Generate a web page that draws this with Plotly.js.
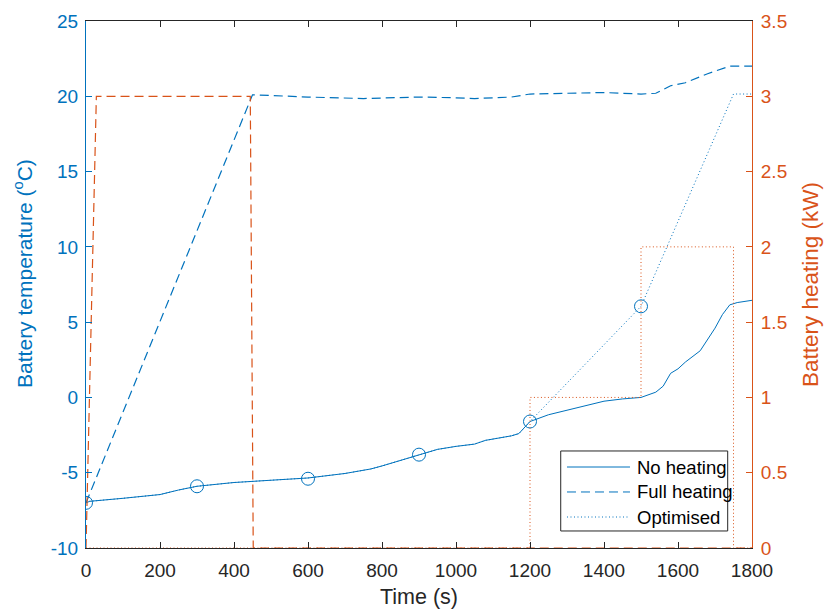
<!DOCTYPE html>
<html>
<head>
<meta charset="utf-8">
<script src="https://cdn.plot.ly/plotly-3.0.1.min.js"></script>
<style>html,body{margin:0;padding:0;background:#fff;}#chart{width:826px;height:613px;}</style>
</head>
<body>
<div id="chart"></div>
<script>
// Temperature, no heating
const noHeatTime = [0,10,100,200,250,300,400,500,600,700,770,800,900,950,1000,1050,1080,1150,1170,1200,1250,1300,1350,1400,1450,1500,1540,1560,1580,1600,1620,1640,1660,1700,1720,1740,1760,1800];
const noHeatTemp = [-7.0,-6.9,-6.7,-6.45,-6.15,-5.9,-5.65,-5.5,-5.35,-5.05,-4.75,-4.55,-3.8,-3.45,-3.25,-3.1,-2.85,-2.55,-2.4,-1.6,-1.15,-0.85,-0.5,-0.25,-0.1,0.0,0.35,0.75,1.6,1.9,2.35,2.75,3.1,4.6,5.5,6.15,6.3,6.45];
// Temperature, full heating
const fullTime = [0,450,500,600,750,900,1000,1050,1150,1200,1300,1400,1500,1540,1580,1620,1680,1740,1800];
const fullTemp = [-7.0,20.1,20.05,19.95,19.85,19.95,19.9,19.85,19.95,20.15,20.2,20.25,20.15,20.2,20.7,20.9,21.5,22.0,22.0];
// Temperature, optimised
const optTime = [0,10,100,200,250,300,400,500,600,700,770,800,900,950,1000,1050,1080,1150,1170,1200,1500,1750,1800];
const optTemp = [-7.0,-6.9,-6.7,-6.45,-6.15,-5.9,-5.65,-5.5,-5.35,-5.05,-4.75,-4.55,-3.8,-3.45,-3.25,-3.1,-2.85,-2.55,-2.4,-1.6,6.05,20.15,20.15];
// Decision points of optimised strategy
const decisionTime = [0,300,600,900,1200,1500];
const decisionTemp = [-7.0,-5.9,-5.4,-3.8,-1.6,6.05];
// Heating power (kW)
const fullPowTime = [0,28,444,452,1800];
const fullPow = [0,3,3,0,0];
const optPowTime = [0,1200,1200,1500,1500,1750,1750,1800];
const optPow = [0,0,1,1,2,2,0,0];

const xTicks = [0,200,400,600,800,1000,1200,1400,1600,1800];
const yTicks = [-10,-5,0,5,10,15,20,25];
const y2Ticks = [0,0.5,1,1.5,2,2.5,3,3.5];
const seriesNames = ['No heating', 'Full heating', 'Optimised'];

const blue = '#0072BD', orange = '#D95319', dark = '#262626';
const solid = 'solid', dashed = '9px,5px', dotted = '1px,2.5px';
const seriesDash = [solid, dashed, dotted];

const traces = [
  {x: fullPowTime, y: fullPow, yaxis: 'y2', mode: 'lines', line: {color: orange, width: 1.2, dash: dashed}, showlegend: false},
  {x: optPowTime, y: optPow, yaxis: 'y2', mode: 'lines', line: {color: orange, width: 1, dash: dotted}, showlegend: false},
  {x: noHeatTime, y: noHeatTemp, mode: 'lines', name: seriesNames[0], line: {color: blue, width: 1}, showlegend: false},
  {x: fullTime, y: fullTemp, mode: 'lines', name: seriesNames[1], line: {color: blue, width: 1.2, dash: dashed}, showlegend: false},
  {x: optTime, y: optTemp, mode: 'lines', name: seriesNames[2], line: {color: blue, width: 1, dash: dotted}, showlegend: false},
  {x: decisionTime, y: decisionTemp, mode: 'markers', showlegend: false, marker: {symbol: 'circle-open', size: 13, color: blue, line: {width: 1, color: blue}}}
];

// Legend drawn as a boxed key (paper coordinates)
const legBox = {x0: 0.7128, x1: 0.9635, y0: 0.0323, y1: 0.1841};
const legRowY = [0.1537, 0.1063, 0.0588];
const legLineX = [0.7222, 0.8168];
const legTextX = 0.8243;
const shapes = [{type: 'rect', xref: 'paper', yref: 'paper', x0: legBox.x0, x1: legBox.x1, y0: legBox.y0, y1: legBox.y1, fillcolor: '#fff', line: {color: dark, width: 1}, layer: 'above'}];
const annotations = [];
seriesNames.forEach((n, i) => {
  shapes.push({type: 'line', xref: 'paper', yref: 'paper', x0: legLineX[0], x1: legLineX[1], y0: legRowY[i], y1: legRowY[i], line: {color: blue, width: 1, dash: seriesDash[i]}, layer: 'above'});
  annotations.push({xref: 'paper', yref: 'paper', x: legTextX, y: legRowY[i], xanchor: 'left', yanchor: 'middle', text: n, showarrow: false, font: {size: 18.5, color: '#000'}});
});
// Left axis title (placed as in the reference, slightly above centre)
annotations.push({xref: 'paper', yref: 'paper', x: -0.0946, y: 0.522, xanchor: 'center', yanchor: 'middle', textangle: -90,
  text: 'Battery temperature (<sup>o</sup>C)', showarrow: false, font: {size: 21, color: blue}});

const fontFam = '"Liberation Sans", Arial, Helvetica, sans-serif';
const layout = {
  width: 826, height: 613,
  margin: {l: 86, r: 74, t: 21, b: 65},
  paper_bgcolor: '#fff', plot_bgcolor: '#fff',
  font: {family: fontFam, size: 19, color: dark},
  showlegend: false,
  shapes: shapes,
  annotations: annotations,
  xaxis: {
    range: [0, 1800], tickvals: xTicks, ticktext: xTicks.map(String),
    ticks: 'inside', ticklen: 6, tickcolor: dark, showline: true, linecolor: dark, linewidth: 1,
    mirror: 'ticks', showgrid: false, zeroline: false, ticklabelstandoff: 5,
    tickfont: {size: 19, color: dark},
    title: {text: 'Time (s)', font: {size: 21.5, color: dark}, standoff: 9}
  },
  yaxis: {
    range: [-10, 25], tickvals: yTicks, ticktext: yTicks.map(String),
    ticks: 'inside', ticklen: 6, tickcolor: blue, showline: true, linecolor: blue, linewidth: 1,
    showgrid: false, zeroline: false, ticklabelstandoff: 3,
    tickfont: {size: 19, color: blue}
  },
  yaxis2: {
    range: [0, 3.5], tickvals: y2Ticks, ticktext: y2Ticks.map(String),
    overlaying: 'y', side: 'right',
    ticks: 'inside', ticklen: 6, tickcolor: orange, showline: true, linecolor: orange, linewidth: 1,
    showgrid: false, zeroline: false, ticklabelstandoff: 4,
    tickfont: {size: 19, color: orange},
    title: {text: 'Battery heating (kW)', font: {size: 22.5, color: orange}, standoff: 16}
  }
};

Plotly.newPlot('chart', traces, layout, {staticPlot: true, displayModeBar: false});
</script>
</body>
</html>
